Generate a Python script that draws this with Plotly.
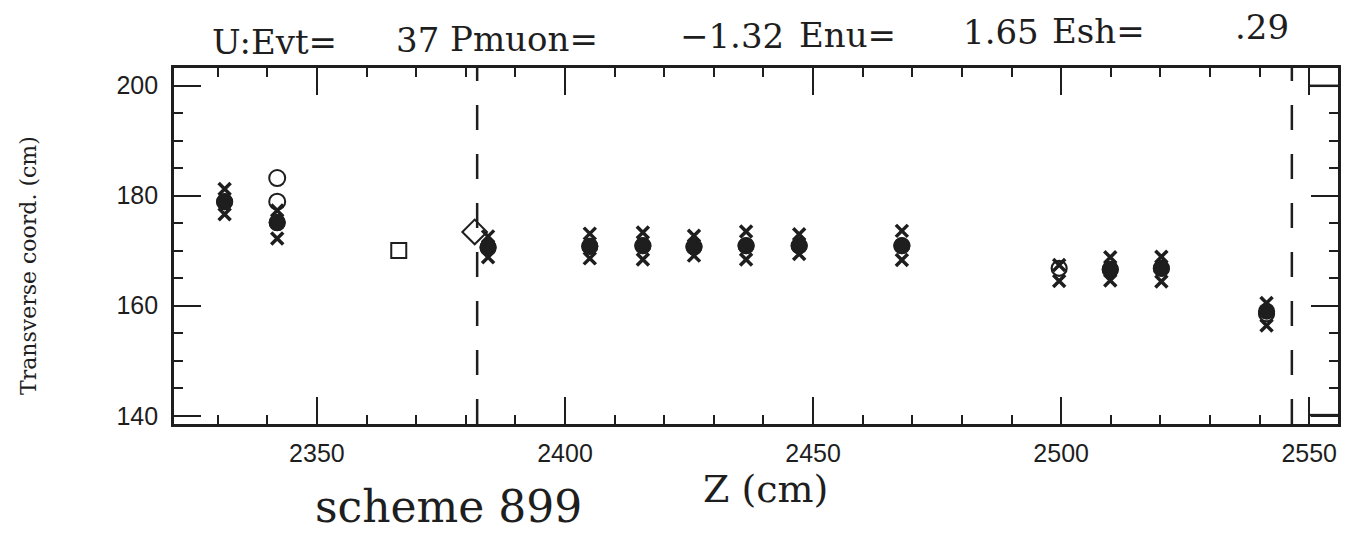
import plotly.graph_objects as go

# Event summary shown in the header
evt = 37
pmuon = -1.32
enu = 1.65
esh = 0.29

# Hit planes: Z position (cm) and transverse coordinate of the track fit (cm)
plane_z = [2331.4, 2342.0, 2384.5, 2405.0, 2415.7, 2426.0, 2436.5,
           2447.2, 2467.9, 2499.6, 2509.9, 2520.2, 2541.4]
fit_y = [178.9, 175.1, 170.6, 170.8, 170.9, 170.7, 170.9,
         170.9, 170.9, 166.8, 166.6, 166.8, 158.5]

# Planes with a solid (charged) cluster
solid_z = [2331.4, 2342.0, 2384.5, 2405.0, 2415.7, 2426.0, 2436.5,
           2447.2, 2467.9, 2509.9, 2520.2, 2541.4]
solid_y = [178.9, 175.1, 170.6, 170.8, 170.9, 170.7, 170.9,
           170.9, 170.9, 166.6, 166.8, 159.0]

# Strip hits above and below each cluster
cross_hi = [181.2, 177.3, 172.6, 173.1, 173.3, 172.7, 173.5,
            173.0, 173.6, 167.4, 168.8, 168.9, 160.5]
cross_lo = [176.6, 172.2, 168.8, 168.6, 168.4, 169.1, 168.4,
            169.4, 168.3, 164.5, 164.6, 164.4, 156.4]

# Unassociated hits upstream
extra_z = [2342.0, 2342.0]
extra_y = [183.2, 178.9]

# Vertex candidates
square_z = [2366.5]
square_y = [170.05]
diamond_z = [2381.8]
diamond_y = [173.4]

# Fiducial boundaries (Z, cm)
boundary_z = [2382.3, 2546.5]

# Axes
x_range = [2321.2, 2555.8]
y_range = [138.5, 203.2]
x_ticks = [2350, 2400, 2450, 2500, 2550]
y_ticks = [140, 160, 180, 200]

INK = "#1e1e1e"

fig = go.Figure()

fig.add_trace(go.Scatter(
    x=plane_z + plane_z, y=cross_hi + cross_lo, mode="markers",
    marker=dict(symbol="x-thin", size=12, line=dict(width=3.5, color=INK)),
    hoverinfo="skip"))
fig.add_trace(go.Scatter(
    x=solid_z, y=solid_y, mode="markers",
    marker=dict(symbol="circle", size=17, color=INK, line=dict(width=0))))
fig.add_trace(go.Scatter(
    x=plane_z, y=fit_y, mode="markers",
    marker=dict(symbol="circle-open", size=15, color=INK, line=dict(width=2.2))))
fig.add_trace(go.Scatter(
    x=extra_z, y=extra_y, mode="markers",
    marker=dict(symbol="circle-open", size=16, color=INK, line=dict(width=2))))
fig.add_trace(go.Scatter(
    x=square_z, y=square_y, mode="markers",
    marker=dict(symbol="square-open", size=15, color=INK, line=dict(width=2))))
fig.add_trace(go.Scatter(
    x=diamond_z, y=diamond_y, mode="markers",
    marker=dict(symbol="diamond-open", size=19, color=INK, line=dict(width=2))))

shapes = []
for bz in boundary_z:
    shapes.append(dict(type="line", xref="x", yref="y domain", x0=bz, x1=bz,
                       y0=0, y1=1, line=dict(color=INK, width=2.5, dash="25px,24px")))
# small boxes in the right-hand corners beyond Z = 2550
shapes.append(dict(type="line", xref="x", yref="y domain", x0=2550, x1=x_range[1],
                   y0=0.95, y1=0.95, line=dict(color=INK, width=2.5)))
shapes.append(dict(type="line", xref="x", yref="y domain", x0=2550, x1=x_range[1],
                   y0=0.025, y1=0.025, line=dict(color=INK, width=2.5)))

# Plot-area edges in pixels, used to place the free text
L, R, T, B = 174, 1338, 68, 424
W, H = R - L, B - T


def px(xp):
    return (xp - L) / W


def py(yp):
    return (B - yp) / H


# header: (text, x edge in px, anchor, y centre in px)
header = [
    ("U:Evt=", 210, "left", 42),
    (f"{evt}", 441, "right", 40),
    ("Pmuon=", 448, "left", 39),
    (f"\u2212{abs(pmuon):.2f}", 786, "right", 36),
    ("Enu=", 797, "left", 35),
    (f"{enu:.2f}", 1041, "right", 32),
    ("Esh=", 1050, "left", 31),
    (f"{esh:.2f}".lstrip("0"), 1291, "right", 27),
]

annotations = []
for text, xe, anchor, yc in header:
    annotations.append(dict(text=text, xref="paper", yref="paper", x=px(xe), y=py(yc),
                            xanchor=anchor, yanchor="middle", showarrow=False,
                            font=dict(family="DejaVu Serif", size=34, color=INK)))

annotations.append(dict(text="Z (cm)", xref="paper", yref="paper", x=px(765), y=py(489),
                        xanchor="center", yanchor="middle", showarrow=False,
                        font=dict(family="DejaVu Serif", size=38, color=INK)))
annotations.append(dict(text="scheme 899", xref="paper", yref="paper", x=px(448), y=py(506),
                        xanchor="center", yanchor="middle", showarrow=False,
                        font=dict(family="DejaVu Serif", size=44, color=INK)))
annotations.append(dict(text="Transverse coord. (cm)", xref="paper", yref="paper",
                        x=px(28), y=py(266), textangle=-90,
                        xanchor="center", yanchor="middle", showarrow=False,
                        font=dict(family="DejaVu Serif", size=22, color=INK)))

axis_common = dict(showgrid=False, zeroline=False, showline=True, linecolor=INK,
                   linewidth=2.8, mirror="ticks", ticks="inside", tickcolor=INK,
                   tickwidth=2.2, ticklen=27,
                   tickfont=dict(family="Liberation Sans", size=25, color=INK))

fig.update_layout(
    width=1357, height=535,
    margin=dict(l=L, r=1357 - R, t=T, b=535 - B),
    paper_bgcolor="white", plot_bgcolor="white",
    showlegend=False,
    xaxis=dict(range=x_range, tickvals=x_ticks, ticklabelstandoff=5,
               minor=dict(dtick=10, tick0=2300, ticks="inside", ticklen=9,
                          tickwidth=2.2, tickcolor=INK),
               **axis_common),
    yaxis=dict(range=y_range, tickvals=y_ticks, ticklabelstandoff=8,
               minor=dict(dtick=5, tick0=140, ticks="inside", ticklen=9,
                          tickwidth=2.2, tickcolor=INK),
               **axis_common),
    shapes=shapes,
    annotations=annotations,
)

fig.write_html("out.html")
